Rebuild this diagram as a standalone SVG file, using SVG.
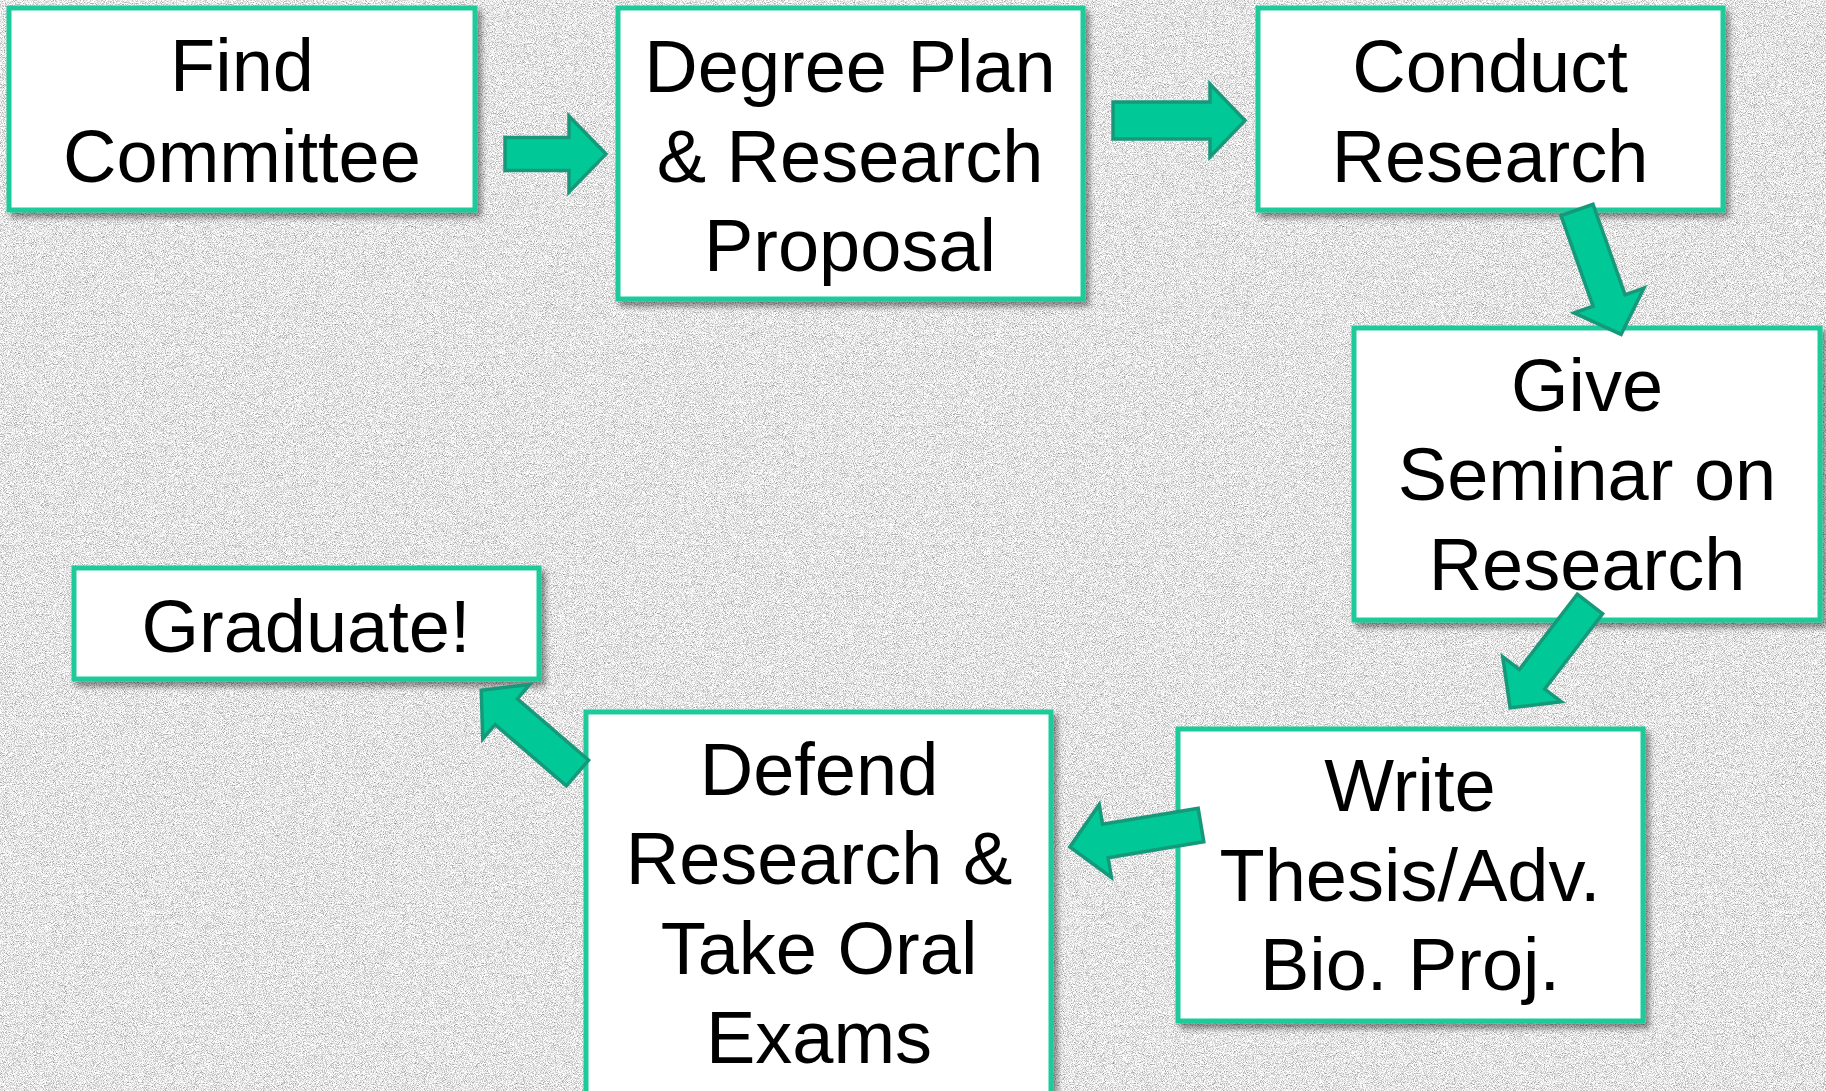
<svg xmlns="http://www.w3.org/2000/svg" width="1826" height="1091" viewBox="0 0 1826 1091">
<defs>
<style>
.box{fill:#ffffff;stroke:#1ECB99;stroke-width:5;filter:url(#shadow)}
.lbl{font-family:"Liberation Sans",Arial,sans-serif;font-size:74px;fill:#000000;text-anchor:middle}
.arr{fill:#00C896;stroke:#16997A;stroke-width:3.5;stroke-linejoin:miter}
</style>
<filter id="shadow" x="-10%" y="-10%" width="125%" height="125%">
<feGaussianBlur in="SourceAlpha" stdDeviation="3"/>
<feOffset dx="4" dy="5" result="b"/>
<feComponentTransfer><feFuncA type="linear" slope="0.45"/></feComponentTransfer>
<feMerge><feMergeNode/><feMergeNode in="SourceGraphic"/></feMerge>
</filter>
<filter id="noise" x="0" y="0" width="100%" height="100%" color-interpolation-filters="sRGB">
<feTurbulence type="fractalNoise" baseFrequency="1.1" numOctaves="3" seed="7" result="t"/>
<feColorMatrix type="matrix" values="0.9 0 0 0 0.45  0.9 0 0 0 0.45  0.9 0 0 0 0.45  0 0 0 0 1"/>
</filter>
</defs>
<rect x="0" y="0" width="1826" height="1091" fill="#dcdcdc"/>
<rect x="0" y="0" width="1826" height="1091" filter="url(#noise)"/>

<g id="find-committee">
<rect class="box" x="9" y="8" width="466" height="202"/>
<text class="lbl" x="242" y="91">Find</text>
<text class="lbl" x="242" y="182">Committee</text>
</g>
<g id="degree-plan">
<rect class="box" x="618" y="8" width="465" height="291"/>
<text class="lbl" x="850" y="92">Degree Plan</text>
<text class="lbl" x="850" y="182">&amp; Research</text>
<text class="lbl" x="850" y="271">Proposal</text>
</g>
<g id="conduct-research">
<rect class="box" x="1258" y="8" width="465" height="202"/>
<text class="lbl" x="1490" y="92">Conduct</text>
<text class="lbl" x="1490" y="182">Research</text>
</g>
<g id="give-seminar">
<rect class="box" x="1354" y="328" width="466" height="292"/>
<text class="lbl" x="1587" y="411">Give</text>
<text class="lbl" x="1587" y="500">Seminar on</text>
<text class="lbl" x="1587" y="590">Research</text>
</g>
<g id="write-thesis">
<rect class="box" x="1178" y="729" width="465" height="292"/>
<text class="lbl" x="1410" y="811">Write</text>
<text class="lbl" x="1410" y="901">Thesis/Adv.</text>
<text class="lbl" x="1410" y="990">Bio. Proj.</text>
</g>
<g id="defend-research">
<rect class="box" x="586" y="712" width="465" height="420"/>
<text class="lbl" x="819" y="795">Defend</text>
<text class="lbl" x="819" y="884">Research &amp;</text>
<text class="lbl" x="819" y="974">Take Oral</text>
<text class="lbl" x="819" y="1063">Exams</text>
</g>
<g id="graduate">
<rect class="box" x="74" y="568" width="465" height="111"/>
<text class="lbl" x="306" y="652">Graduate!</text>
</g>

<g id="connectors">
<path class="arr" transform="translate(505,154)" d="M0,-16.5 L64,-16.5 L64,-38 L101,0 L64,38 L64,16.5 L0,16.5 Z"/>
<path class="arr" transform="translate(1113,120.5)" d="M0,-18.5 L97,-18.5 L97,-36.5 L132,0 L97,36.5 L97,18.5 L0,18.5 Z"/>
<path class="arr" transform="translate(1577,210) rotate(70.5)" d="M0,-17 L96,-17 L96,-37 L132,0 L96,37 L96,17 L0,17 Z"/>
<path class="arr" transform="translate(1590,604) rotate(127.6)" d="M0,-16 L95,-16 L95,-37 L131,0 L95,37 L95,16 L0,16 Z"/>
<path class="arr" transform="translate(1201,825) rotate(170.5)" d="M0,-17 L97,-17 L97,-37 L133,0 L97,37 L97,17 L0,17 Z"/>
<path class="arr" transform="translate(577.5,773) rotate(220.7)" d="M0,-17 L94,-17 L94,-36 L127,0 L94,36 L94,17 L0,17 Z"/>
</g>
</svg>
